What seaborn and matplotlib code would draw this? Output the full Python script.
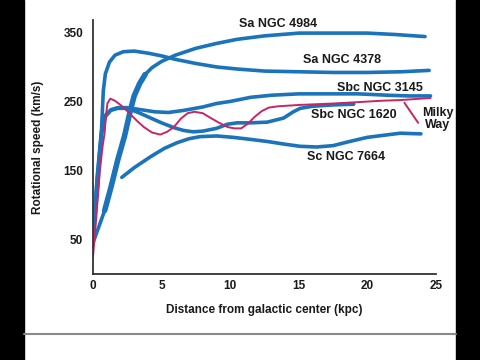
import matplotlib
matplotlib.use("Agg")
import matplotlib.pyplot as plt
import seaborn as sns
from matplotlib.patches import Rectangle
from matplotlib.lines import Line2D

# rotation curves (kpc, km/s)
ngc4984_x = [0.0, 0.85, 1.3, 1.8, 2.3, 2.7, 3.0, 3.4, 3.8, 4.3, 5.0, 6.0, 7.5, 9.0, 10.5, 12.5, 15.0, 17.5, 20.0, 22.0, 24.2]
ngc4984_y = [45, 92, 125, 165, 200, 235, 258, 276, 289, 299, 308, 317, 327, 334, 340, 345, 349, 349, 349, 347, 344]

ngc4378_x = [0.0, 0.35, 0.6, 0.75, 0.9, 1.2, 1.6, 2.2, 3.0, 4.0, 5.0, 6.0, 7.5, 9.0, 10.5, 12.5, 15.0, 17.5, 20.0, 22.5, 24.5]
ngc4378_y = [50, 130, 200, 265, 290, 307, 317, 322, 323, 320, 316, 311, 305, 300, 297, 294, 293, 292, 292, 293, 295]

ngc3145_x = [0.0, 0.3, 0.6, 0.9, 1.3, 1.8, 2.5, 3.5, 4.5, 5.5, 6.6, 8.0, 9.0, 10.0, 11.5, 13.0, 15.0, 17.0, 19.3, 21.5, 23.0, 24.6]
ngc3145_y = [50, 140, 205, 230, 238, 241, 241, 238, 235, 234, 237, 242, 247, 250, 256, 259, 261, 261, 261, 259, 258, 258]

ngc1620_x = [0.0, 0.3, 0.6, 0.9, 1.3, 1.8, 2.5, 3.3, 4.2, 5.0, 5.9, 6.6, 7.3, 8.0, 9.0, 9.8, 10.5, 11.5, 12.7, 13.9, 14.6, 15.1, 16.0, 17.5, 19.0]
ngc1620_y = [50, 135, 200, 228, 237, 240, 240, 234, 226, 219, 212, 208, 206, 207, 211, 217, 219, 219, 220, 226, 235, 240, 243, 245, 246]

milky_x = [0.0, 0.25, 0.5, 0.7, 0.85, 0.95, 1.05, 1.26, 1.6, 2.0, 2.5, 3.2, 3.7, 4.3, 4.9, 5.4, 5.9, 6.4, 6.9, 7.4, 8.0, 8.5,
           9.2, 9.8, 10.3, 10.8, 11.3, 11.8, 12.3, 12.8, 13.5, 15.1, 17.5, 19.3, 21.0, 22.4, 24.6]
milky_y = [25, 85, 150, 185, 205, 230, 247, 254, 251, 245, 236, 222, 213, 205, 202, 206, 213, 225, 233, 235, 233, 227,
           219, 213, 211, 211, 218, 228, 236, 241, 243, 245, 247, 249, 251, 252, 255]
milky_leader_x = [22.7, 23.7]
milky_leader_y = [248, 219]

ngc7664_x = [2.1, 3.0, 4.2, 5.2, 6.1, 7.0, 7.8, 9.0, 10.2, 11.5, 12.7, 14.0, 15.1, 16.3, 17.5, 18.7, 20.0, 21.2, 22.4, 23.9]
ngc7664_y = [140, 154, 170, 182, 190, 196, 199, 200, 198, 195, 192, 188, 185, 184, 186, 192, 198, 201, 204, 203]

x_ticks = [0, 5, 10, 15, 20, 25]
y_ticks = [50, 150, 250, 350]

BLUE = "#1b74bb"
RED = "#c92463"

sns.set_style("white")
plt.rcParams["font.family"] = ["Liberation Sans", "DejaVu Sans"]
plt.rcParams["font.weight"] = "bold"
plt.rcParams["lines.solid_joinstyle"] = "round"
plt.rcParams["lines.solid_capstyle"] = "round"

fig = plt.figure(figsize=(4.8, 3.6), dpi=100)
ax = fig.add_axes([93 / 480, 86 / 360, 343 / 480, 254 / 360])

for xs, ys in [(ngc4984_x, ngc4984_y), (ngc4378_x, ngc4378_y), (ngc3145_x, ngc3145_y),
               (ngc1620_x, ngc1620_y), (ngc7664_x, ngc7664_y)]:
    sns.lineplot(x=xs, y=ys, ax=ax, color=BLUE, lw=2.6, estimator=None, sort=False)
# thicker inner rise of NGC 4984
sns.lineplot(x=ngc4984_x[1:9], y=ngc4984_y[1:9], ax=ax, color=BLUE, lw=4.0, estimator=None, sort=False)
sns.lineplot(x=milky_x, y=milky_y, ax=ax, color=RED, lw=1.4, estimator=None, sort=False)
sns.lineplot(x=milky_leader_x, y=milky_leader_y, ax=ax, color=RED, lw=1.4, estimator=None, sort=False)

ax.set_xlim(0, 25)
ax.set_ylim(0, 368)
ax.set_xticks(x_ticks)
ax.set_yticks(y_ticks)
ax.tick_params(axis="y", direction="in", length=8, width=1.3, color="#333333", pad=7, labelsize=8.5,
               labelcolor="#1a1a1a")
ax.tick_params(axis="x", direction="in", length=7, width=1.3, color="#333333", pad=4, labelsize=8.5,
               labelcolor="#1a1a1a")
for s in ["top", "right"]:
    ax.spines[s].set_visible(False)
for s in ["left", "bottom"]:
    ax.spines[s].set_color("#333333")
    ax.spines[s].set_linewidth(1.3)
ax.patch.set_alpha(0)

ax.set_xlabel("Distance from galactic center (kpc)", fontsize=8.5, fontweight="bold", labelpad=9, color="#1a1a1a")
ax.set_ylabel("Rotational speed (km/s)", fontsize=8.5, fontweight="bold", labelpad=14, color="#1a1a1a")

labels = [("Sa NGC 4984", 278, 24), ("Sa NGC 4378", 342, 60), ("Sbc NGC 3145", 380, 88),
          ("Sbc NGC 1620", 354, 115), ("Milky\nWay", 438, 119), ("Sc NGC 7664", 346, 157)]
for txt, px, py in labels:
    fig.text(px / 480, 1 - py / 360, txt, ha="center", va="center", fontsize=9,
             fontweight="bold", color="#1a1a1a", linespacing=0.9)

# letterbox frame
fig.patches.append(Rectangle((0, 0), 24 / 480, 1, transform=fig.transFigure, color="black", zorder=-1))
fig.patches.append(Rectangle((456 / 480, 0), 24 / 480, 1, transform=fig.transFigure, color="black", zorder=-1))
fig.lines.append(Line2D([24 / 480, 456 / 480], [26 / 360, 26 / 360], transform=fig.transFigure,
                        color="#8a8a8a", lw=1.5))

fig.savefig("out.png", dpi=100)
